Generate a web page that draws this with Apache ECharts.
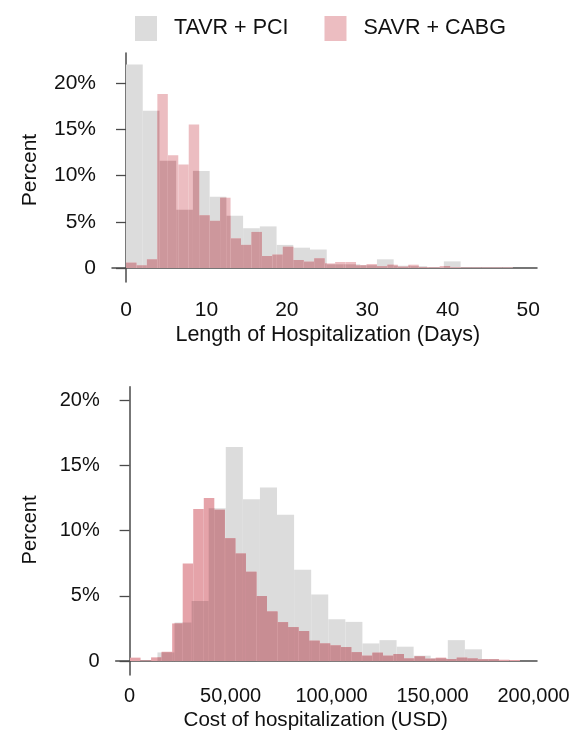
<!DOCTYPE html>
<html>
<head>
<meta charset="utf-8">
<title>Hospitalization histograms</title>
<script src="https://cdn.jsdelivr.net/npm/echarts@6.0.0/dist/echarts.min.js"></script>
</head>
<body style="margin:0;background:#fff;">
<div id="main" style="width:573px;height:742px;"></div>
<script type="text/javascript">
// series names
var nameTavr = 'TAVR + PCI';
var nameSavr = 'SAVR + CABG';

// length of stay (days), percent per bin
var losTavrStart = 0, losTavrWidth = 2.08;
var losTavr = [22.0, 17.0, 11.6, 6.3, 10.5, 7.7, 5.65, 4.3, 4.5, 2.5,
               2.2, 2.0, 0.4, 0.4, 0.3, 0.94, 0.25, 0.2, 0.05, 0.72];
var losSavrStart = 0, losSavrWidth = 1.30;
var losSavr = [0.58, 0.29, 0.94, 18.8, 12.2, 11.2, 15.5, 5.7, 5.1, 7.6,
               3.2, 2.5, 3.9, 1.3, 1.45, 2.3, 0.87, 0.69, 1.05, 0.5,
               0.65, 0.65, 0.29, 0.43, 0.2, 0.36, 0.15, 0.36, 0.1, 0.07,
               0.22, 0.07, 0.07, 0.07, 0.07, 0.07, 0.07];

// cost of hospitalization (USD), percent per bin
var costTavrStart = 13800, costTavrWidth = 8455;
var costTavr = [0.66, 2.95, 4.6, 11.7, 16.4, 12.4, 13.3, 11.2, 7.0, 5.1,
                3.2, 3.0, 1.35, 1.6, 1.1, 0.41, 0.2, 1.6, 0.9, 0.15];
var costSavrStart = 200, costSavrWidth = 5218;
var costSavr = [0.26, 0.05, 0.28, 0.71, 2.88, 7.48, 11.64, 12.5, 11.6, 9.4,
                8.24, 6.84, 4.98, 3.8, 2.98, 2.6, 2.3, 1.56, 1.35, 1.2,
                1.07, 0.68, 0.41, 0.64, 0.41, 0.54, 0.2, 0.36, 0.18, 0.26,
                0.15, 0.26, 0.2, 0.13, 0.13, 0.1, 0.08];

// tick labels
var pctTicks = [0, 5, 10, 15, 20];
var dayTicks = [0, 10, 20, 30, 40, 50];
var costTicks = [0, 50000, 100000, 150000, 200000];

var FONT = "'Liberation Sans', Arial, Helvetica, sans-serif";
var grayCol = '#dcdcdc';
var pinkTop = 'rgb(236,189,193)';
var darkTop = 'rgb(205,151,156)';
var pinkBottom = 'rgb(229,163,169)';
var darkBottom = 'rgb(200,141,147)';

function toBins(start, width, vals) {
  return vals.map(function (v, i) {
    return [start + i * width, start + (i + 1) * width, v];
  });
}

function barRect(api, x0, x1, y, fill) {
  var p0 = api.coord([x0, y]);
  var p1 = api.coord([x1, 0]);
  return {
    type: 'rect',
    shape: { x: p0[0], y: p0[1], width: p1[0] - p0[0], height: p1[1] - p0[1] },
    style: { fill: fill }
  };
}

function grayItem(params, api) {
  return barRect(api, api.value(0), api.value(1), api.value(2), api.visual('color'));
}

// pink bin on top of the gray bins; where both overlap the colour gets darker
function pinkItem(grayBins, darkCol) {
  return function (params, api) {
    var x0 = api.value(0), x1 = api.value(1), v = api.value(2);
    var kids = [barRect(api, x0, x1, v, api.visual('color'))];
    grayBins.forEach(function (g) {
      var a = Math.max(x0, g[0]), b = Math.min(x1, g[1]);
      var h = Math.min(v, g[2]);
      if (b > a && h > 0) kids.push(barRect(api, a, b, h, darkCol));
    });
    return { type: 'group', children: kids };
  };
}

function pctLabel(v) { return v === 0 ? '0' : v + '%'; }

var axisLine = { show: true, lineStyle: { color: '#4a4a4a', width: 1.5 } };

var losTavrBins = toBins(losTavrStart, losTavrWidth, losTavr);
var costTavrBins = toBins(costTavrStart, costTavrWidth, costTavr);

var myChart = echarts.init(document.getElementById('main'));

var option = {
  backgroundColor: '#fff',
  animation: false,
  legend: {
    left: 130,
    top: 11,
    icon: 'rect',
    itemWidth: 22,
    itemHeight: 25,
    itemGap: 36,
    selectedMode: false,
    data: [nameTavr, nameSavr],
    textStyle: { fontFamily: FONT, fontSize: 21.5, color: '#111', padding: [0, 0, 0, 12] }
  },
  grid: [
    { left: 112, top: 53, width: 425, height: 229 },
    { left: 115.7, top: 386.7, width: 421.3, height: 288.3 }
  ],
  xAxis: [
    {
      gridIndex: 0, type: 'value', min: -1.74, max: 51.1,
      axisLine: axisLine,
      axisTick: { show: false },
      splitLine: { show: false },
      axisLabel: { customValues: dayTicks, margin: 18, fontFamily: FONT, fontSize: 21, color: '#111' }
    },
    {
      gridIndex: 1, type: 'value', min: -6880, max: 201700,
      axisLine: axisLine,
      axisTick: { show: false },
      splitLine: { show: false },
      axisLabel: {
        customValues: costTicks, margin: 11, fontFamily: FONT, fontSize: 20, color: '#111',
        formatter: function (v) { return v.toLocaleString('en-US'); }
      }
    }
  ],
  yAxis: [
    {
      gridIndex: 0, type: 'value', min: -1.51, max: 23.24,
      axisLine: axisLine,
      axisTick: { show: true, customValues: pctTicks, length: 10, lineStyle: { color: '#4a4a4a', width: 1.3 } },
      splitLine: { show: false },
      axisLabel: { customValues: pctTicks, margin: 16, fontFamily: FONT, fontSize: 21, color: '#111', formatter: pctLabel }
    },
    {
      gridIndex: 1, type: 'value', min: -1.07, max: 21.02,
      axisLine: axisLine,
      axisTick: { show: true, customValues: pctTicks, length: 10, lineStyle: { color: '#4a4a4a', width: 1.3 } },
      splitLine: { show: false },
      axisLabel: { customValues: pctTicks, margin: 16, fontFamily: FONT, fontSize: 20, color: '#111', formatter: pctLabel }
    }
  ],
  series: [
    {
      name: nameTavr, type: 'custom', xAxisIndex: 0, yAxisIndex: 0, silent: true,
      itemStyle: { color: grayCol },
      encode: { x: [0, 1], y: 2 },
      renderItem: grayItem,
      data: losTavrBins
    },
    {
      name: nameSavr, type: 'custom', xAxisIndex: 0, yAxisIndex: 0, silent: true,
      itemStyle: { color: pinkTop },
      encode: { x: [0, 1], y: 2 },
      renderItem: pinkItem(losTavrBins, darkTop),
      data: toBins(losSavrStart, losSavrWidth, losSavr)
    },
    {
      name: nameTavr, type: 'custom', xAxisIndex: 1, yAxisIndex: 1, silent: true,
      itemStyle: { color: grayCol },
      encode: { x: [0, 1], y: 2 },
      renderItem: grayItem,
      data: costTavrBins
    },
    {
      name: nameSavr, type: 'custom', xAxisIndex: 1, yAxisIndex: 1, silent: true,
      itemStyle: { color: pinkBottom },
      encode: { x: [0, 1], y: 2 },
      renderItem: pinkItem(costTavrBins, darkBottom),
      data: toBins(costSavrStart, costSavrWidth, costSavr)
    }
  ],
  graphic: [
    { type: 'text', x: 327.8, y: 335.5, silent: true,
      style: { text: 'Length of Hospitalization (Days)', font: '21.5px ' + FONT, fill: '#111', textAlign: 'center', textVerticalAlign: 'middle' } },
    { type: 'text', x: 315.7, y: 720.7, silent: true,
      style: { text: 'Cost of hospitalization (USD)', font: '20.6px ' + FONT, fill: '#111', textAlign: 'center', textVerticalAlign: 'middle' } },
    { type: 'text', x: 30, y: 170, rotation: Math.PI / 2, silent: true,
      style: { text: 'Percent', font: '21px ' + FONT, fill: '#111', textAlign: 'center', textVerticalAlign: 'middle' } },
    { type: 'text', x: 30, y: 530, rotation: Math.PI / 2, silent: true,
      style: { text: 'Percent', font: '20px ' + FONT, fill: '#111', textAlign: 'center', textVerticalAlign: 'middle' } }
  ]
};

myChart.setOption(option);
</script>
</body>
</html>
